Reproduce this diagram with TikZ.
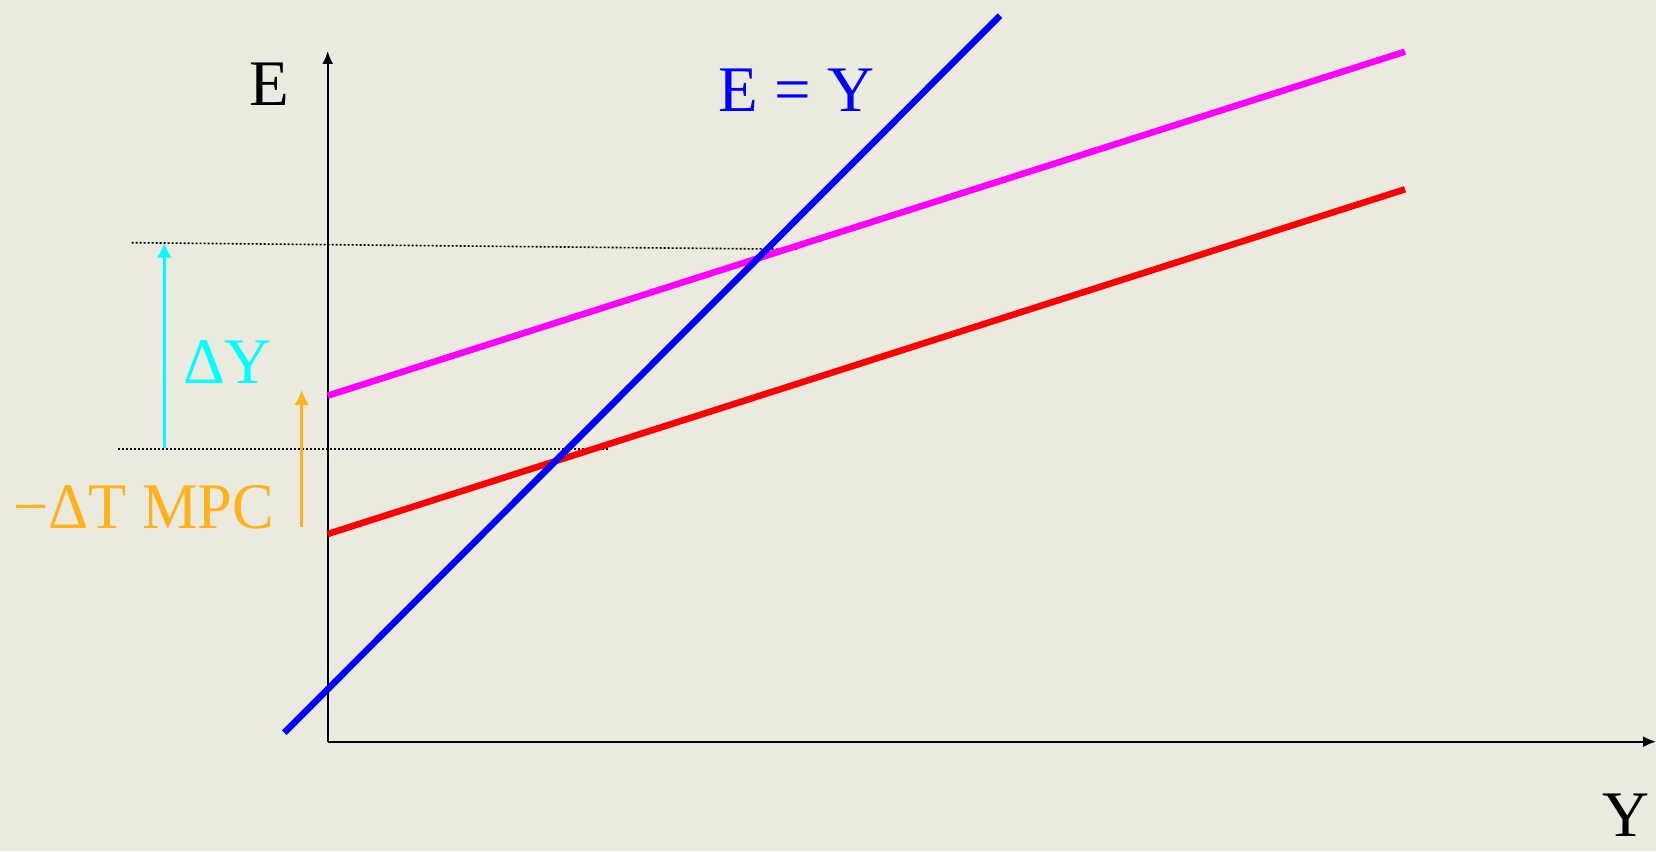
\documentclass[tikz,border=0pt]{standalone}
\usepackage{fontspec}
\setmainfont{Liberation Serif}
\usetikzlibrary{arrows.meta}
\definecolor{bgc}{RGB}{234,234,222}
\definecolor{orng}{RGB}{255,178,26}
\definecolor{cyn}{RGB}{0,255,255}
\definecolor{mgnt}{RGB}{255,0,255}
\tikzset{
  lbl/.style={inner sep=0pt, anchor=base west, font=\fontsize{65}{78}\selectfont},
  axis/.style={line width=2.2pt, -{Latex[length=13pt,width=11pt]}},
  curve/.style={line width=6.5pt},
  dots/.style={line width=1.6pt, dash pattern=on 2pt off 2pt},
  shiftarrow/.style={line width=3pt, -{Latex[length=15pt,width=15pt]}}
}
\begin{document}
\begin{tikzpicture}[x=1pt,y=-1pt]
\fill[bgc] (0,0) rectangle (1656,851);
\useasboundingbox (0,0) rectangle (1656,851);
% axes
\coordinate (O) at (327.7,741.7);
\coordinate (Etop) at (327.7,51);
\coordinate (Yend) at (1656,741.7);
\draw[axis] (O) -- (Etop);
\draw[axis] (O) -- (Yend);
% dotted guide lines
\coordinate (d1a) at (131.7,242.7);
\coordinate (d1b) at (797,249.3);
\coordinate (d2a) at (118,449);
\coordinate (d2b) at (607.7,449);
\draw[dots] (d1a) -- (d1b);
\draw[dots] (d2a) -- (d2b);
% lines
\coordinate (b1) at (284.3,732.7);
\coordinate (b2) at (1000,15.7);
\coordinate (m1) at (327.7,395.7);
\coordinate (m2) at (1405,51.7);
\coordinate (r1) at (327.7,534);
\coordinate (r2) at (1405,189.3);
\draw[curve, red] (r1) -- (r2);
\draw[curve, mgnt] (m1) -- (m2);
\draw[curve, blue] (b1) -- (b2);
% shift arrows
\coordinate (c1) at (164.3,448.3);
\coordinate (c2) at (164.3,242.7);
\draw[shiftarrow, cyn] (c1) -- (c2);
\coordinate (o1) at (301.7,526.7);
\coordinate (o2) at (301.7,390);
\draw[shiftarrow, orng] (o1) -- (o2);
% labels
\node[lbl] (Elab) at (249,105) {E};
\node[lbl, blue] (EYlab) at (718,111) {E = Y};
\node[lbl] (Ylab) at (1602,836) {Y};
\node[lbl, cyn] (dYlab) at (183,383) {ΔY};
\node[lbl, orng, xscale=0.96] (dTlab) at (13,528) {−ΔT MPC};
\end{tikzpicture}
\end{document}
